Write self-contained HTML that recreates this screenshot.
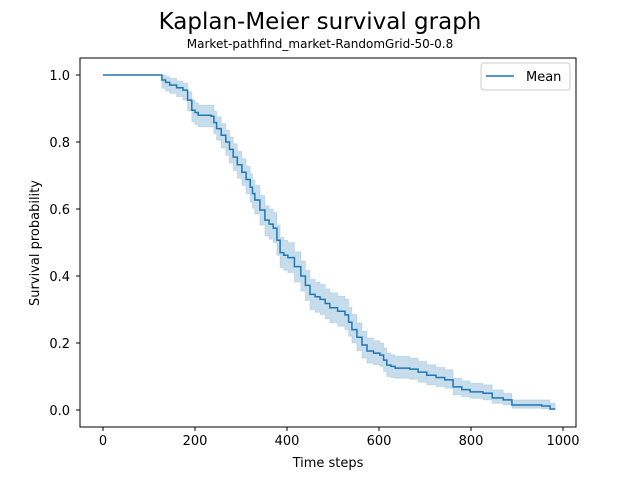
<!DOCTYPE html>
<html><head><meta charset="utf-8"><style>
body{margin:0;background:#fff;}
svg text{font-family:"DejaVu Sans","Liberation Sans",sans-serif;fill:#000;}
</style></head><body>
<svg id="chart" width="640" height="480" xmlns="http://www.w3.org/2000/svg">
<rect width="640" height="480" fill="#fff"/>
<text x="320" y="29" font-size="23" text-anchor="middle">Kaplan-Meier survival graph</text>
<text x="320" y="48" font-size="12" text-anchor="middle">Market-pathfind_market-RandomGrid-50-0.8</text>
<g id="plot"></g>
<rect x="80" y="58" width="496" height="369" fill="none" stroke="#000" stroke-width="1"/>
<g id="axes"></g>
<text x="328" y="467" font-size="13" text-anchor="middle">Time steps</text>
<text x="0" y="0" font-size="13" text-anchor="middle" transform="translate(39,243) rotate(-90)">Survival probability</text>
<g>
<rect x="481" y="63" width="89" height="27" rx="3" fill="#fff" stroke="#ccc"/>
<line x1="486" y1="76" x2="514" y2="76" stroke="#1f77b4" stroke-width="1.5"/>
<text x="526" y="81" font-size="13">Mean</text>
</g>
</svg>
<script>
const times=[0,128,136,145,160,174,184,193,200,207,235,241,247,257,267,275,283,292,302,311,320,325,330,341,352,361,370,378,385,393,402,416,430,440,450,461,472,483,493,510,526,534,541,552,563,574,588,602,610,617,626,635,667,685,704,724,743,761,780,798,826,846,870,889,954,972];
const survival=[1,0.985,0.978,0.97,0.962,0.955,0.925,0.895,0.888,0.88,0.877,0.858,0.84,0.82,0.8,0.778,0.755,0.732,0.71,0.688,0.665,0.646,0.627,0.597,0.567,0.555,0.543,0.507,0.47,0.462,0.455,0.428,0.4,0.372,0.345,0.338,0.33,0.318,0.305,0.295,0.284,0.262,0.24,0.217,0.194,0.176,0.17,0.164,0.149,0.134,0.13,0.125,0.122,0.113,0.104,0.097,0.09,0.069,0.061,0.054,0.05,0.036,0.03,0.015,0.012,0.003];
const lower=[1,0.96,0.952,0.945,0.935,0.925,0.893,0.86,0.852,0.845,0.845,0.825,0.805,0.782,0.76,0.737,0.715,0.692,0.67,0.645,0.62,0.602,0.585,0.552,0.52,0.51,0.5,0.462,0.425,0.417,0.41,0.382,0.355,0.327,0.3,0.292,0.285,0.272,0.26,0.25,0.24,0.22,0.2,0.177,0.155,0.14,0.135,0.13,0.115,0.1,0.097,0.095,0.092,0.083,0.075,0.07,0.065,0.045,0.04,0.035,0.03,0.02,0.015,0.005,0.003,0];
const upper=[1,1,0.995,0.99,0.982,0.975,0.95,0.925,0.917,0.91,0.91,0.892,0.875,0.855,0.835,0.815,0.795,0.772,0.75,0.727,0.705,0.687,0.67,0.64,0.61,0.6,0.59,0.552,0.515,0.507,0.5,0.472,0.445,0.417,0.39,0.382,0.375,0.362,0.35,0.34,0.33,0.307,0.285,0.26,0.235,0.215,0.207,0.2,0.185,0.17,0.165,0.16,0.155,0.145,0.135,0.127,0.12,0.095,0.087,0.08,0.075,0.06,0.05,0.03,0.03,0.02];
const endTime=983;
const xTicks=[0,200,400,600,800,1000];
const yTicks=[0,0.2,0.4,0.6,0.8,1.0];
const NS="http://www.w3.org/2000/svg";
const xs=t=>103+t*0.46;
const ys=s=>410-s*335;
function stepPts(arr){
  let p=[];
  for(let i=0;i<times.length;i++){
    const tn=i+1<times.length?times[i+1]:endTime;
    p.push([xs(times[i]),ys(arr[i])]);p.push([xs(tn),ys(arr[i])]);
  }
  return p;
}
const plot=document.getElementById('plot');
const up=stepPts(upper),lo=stepPts(lower).reverse();
const band=document.createElementNS(NS,'path');
band.setAttribute('d','M'+up.concat(lo).map(p=>p[0].toFixed(1)+','+p[1].toFixed(1)).join('L')+'Z');
band.setAttribute('fill','#1f77b4');band.setAttribute('fill-opacity','0.25');
band.setAttribute('stroke','#1f77b4');band.setAttribute('stroke-opacity','0.15');


plot.appendChild(band);
const line=document.createElementNS(NS,'path');
line.setAttribute('d','M'+stepPts(survival).map(p=>p[0].toFixed(1)+','+p[1].toFixed(1)).join('L'));
line.setAttribute('fill','none');line.setAttribute('stroke','#1f77b4');line.setAttribute('stroke-width','1.5');


plot.appendChild(line);
const axes=document.getElementById('axes');
xTicks.forEach(v=>{
  const g=document.createElementNS(NS,'g');
  
  
  g.innerHTML=`<line x1="${xs(v)}" y1="427" x2="${xs(v)}" y2="431" stroke="#000"/><text x="${xs(v)}" y="445" font-size="13" text-anchor="middle">${v}</text>`;
  axes.appendChild(g);
});
yTicks.forEach(v=>{
  const g=document.createElementNS(NS,'g');
  
  
  g.innerHTML=`<line x1="76" y1="${ys(v)}" x2="80" y2="${ys(v)}" stroke="#000"/><text x="70" y="${ys(v)+5}" font-size="13" text-anchor="end">${v.toFixed(1)}</text>`;
  axes.appendChild(g);
});
</script>
</body></html>
